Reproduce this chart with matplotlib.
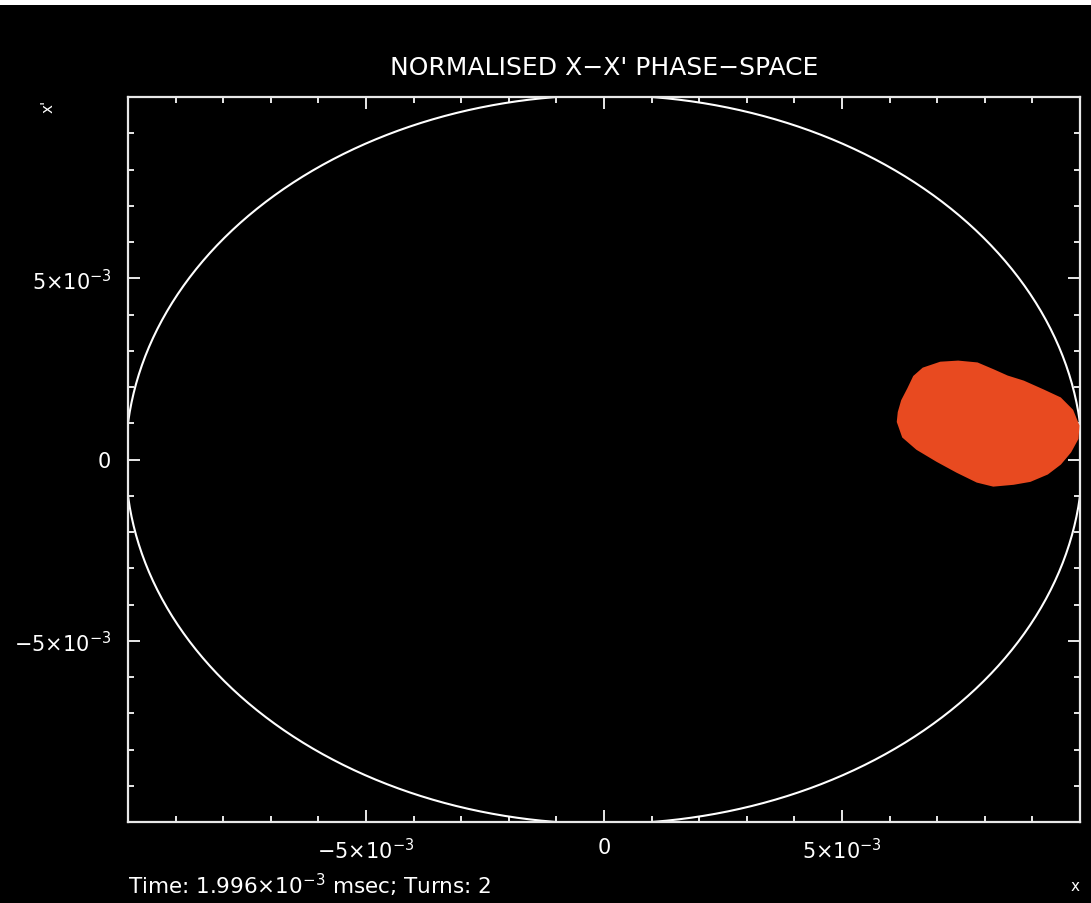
import numpy as np
import matplotlib
matplotlib.use("Agg")
import matplotlib.pyplot as plt
from matplotlib.patches import Rectangle

# ---- data ----
title = "NORMALISED X\u2212X' PHASE\u2212SPACE"
x_label = "x"
y_label = "x'"
info_text = r"Time: 1.996${\times}$10$^{-3}$ msec; Turns: 2"

major_ticks = [-5e-3, 0.0, 5e-3]
major_labels = [r"$-5{\times}10^{-3}$", "0", r"$5{\times}10^{-3}$"]

# acceptance ellipse (normalised: circle)
ellipse_radius = 0.01005
ellipse_center = (0.0, 0.0)

# outline of the particle cloud (x, x') in units of 1e-3
cloud_x = [6.71, 7.07, 7.44, 7.84, 8.18, 8.47, 8.81, 9.22, 9.58, 9.83, 9.96, 9.94,
           9.79, 9.58, 9.31, 8.95, 8.60, 8.18, 7.84, 7.42, 7.00, 6.58, 6.29, 6.18,
           6.20, 6.27, 6.40, 6.52]
cloud_y = [2.50, 2.66, 2.69, 2.64, 2.45, 2.28, 2.14, 1.90, 1.68, 1.35, 0.93, 0.58,
           0.22, -0.11, -0.38, -0.58, -0.66, -0.71, -0.60, -0.33, -0.03, 0.30, 0.63, 1.04,
           1.30, 1.62, 1.95, 2.28]

# ---- figure ----
W, H = 1091, 904
fig = plt.figure(figsize=(W / 100, H / 100), dpi=100, facecolor="black")
fig.patches.append(Rectangle((0, 1 - 6 / H), 1, 6 / H, transform=fig.transFigure,
                             facecolor="white", edgecolor="none", zorder=0))
ax = fig.add_axes([128 / W, 1 - 823 / H, (1080 - 128) / W, (823 - 98) / H])
ax.set_facecolor("black")

t = np.linspace(0, 2 * np.pi, 721)
ax.plot(ellipse_center[0] + ellipse_radius * np.cos(t),
        ellipse_center[1] + ellipse_radius * np.sin(t),
        color="white", lw=1.5, zorder=2)

cx = np.array(cloud_x) * 1e-3
cy = np.array(cloud_y) * 1e-3
ax.fill(cx, cy, color="#e84a20", edgecolor="#e84a20", lw=2.0, zorder=3)

ax.set_xlim(-0.01, 0.01)
ax.set_ylim(-0.01, 0.01)

for s in ax.spines.values():
    s.set_color("#e8e8e8")
    s.set_linewidth(1.6)

ax.set_xticks(major_ticks, labels=major_labels)
ax.set_yticks(major_ticks, labels=major_labels)
minor = [v * 1e-3 for v in range(-9, 10) if v % 5 != 0]
ax.set_xticks(minor, minor=True)
ax.set_yticks(minor, minor=True)
ax.tick_params(which="both", direction="in", top=True, right=True, color="#e8e8e8",
               width=1.4, labelcolor="white", labelsize=15)
ax.tick_params(which="major", length=8.5)
ax.tick_params(which="minor", length=4.3)
ax.tick_params(axis="x", pad=11)
ax.tick_params(axis="y", pad=12)

fig.text(604 / W, 1 - 68 / H, title, color="white", fontsize=18,
         ha="center", va="center")
fig.text(128 / W, 1 - 885 / H, info_text, color="white", fontsize=15.5,
         ha="left", va="center")
fig.text(1075 / W, 1 - 887 / H, x_label, color="white", fontsize=11,
         ha="center", va="center")
fig.text(48 / W, 1 - 106 / H, y_label, color="white", fontsize=11,
         ha="center", va="center", rotation=90)

fig.savefig("out.png", dpi=100, facecolor="black")
